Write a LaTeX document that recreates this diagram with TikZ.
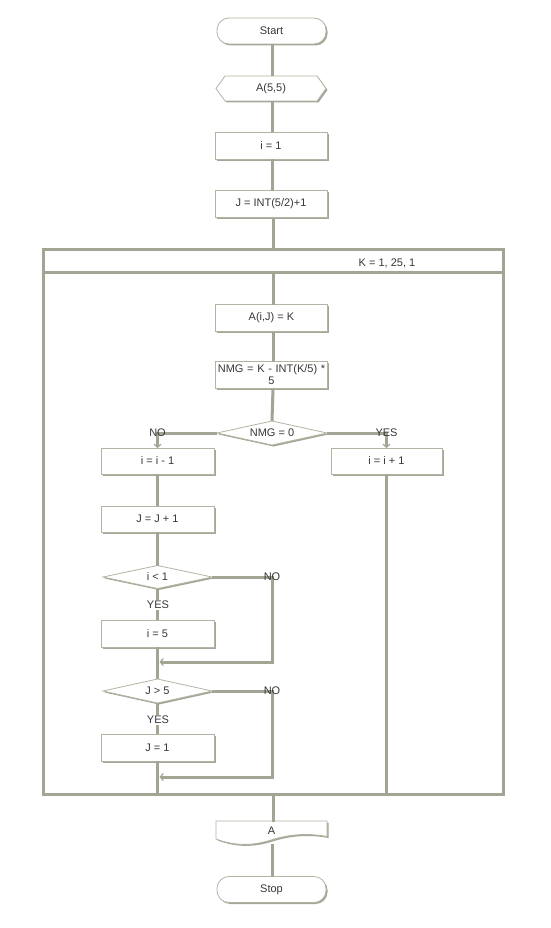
\documentclass[tikz,border=0pt]{standalone}
\usepackage{fontspec}
\setmainfont{Liberation Sans}
\usetikzlibrary{shapes.geometric,shadows,arrows.meta,calc}
\definecolor{linec}{RGB}{163,164,148}
\definecolor{boxc}{RGB}{180,180,165}
\definecolor{shc}{RGB}{150,150,135}
\definecolor{txtc}{RGB}{55,55,55}
\begin{document}
\begin{tikzpicture}[x=1pt,y=-1pt,
  every node/.style={font=\fontsize{11}{12}\selectfont, text=txtc, outer sep=0pt},
  shad/.style={drop shadow={shadow xshift=1.5pt,shadow yshift=-1.5pt,fill=shc,opacity=0.85}},
  boxst/.style={draw=boxc, line width=0.8pt, fill=white, shad},
  procbox/.style={boxst, rectangle, minimum width=112pt, minimum height=27pt, inner sep=0pt},
  term/.style={boxst, rectangle, rounded corners=12pt, minimum width=109pt, minimum height=26pt, inner sep=0pt},
  decide/.style={boxst, diamond, aspect=4.5, minimum width=110pt, minimum height=24pt, inner sep=0pt},
  conn/.style={draw=linec, line width=3pt},
  arr/.style={-{Straight Barb[length=3pt,width=7pt,line width=1.2pt]}},
  lbl/.style={inner sep=0pt}
]
\useasboundingbox[fill=white] (0,0) rectangle (550,928);

% loop frame
\node[draw=linec, line width=3pt, rectangle, minimum width=460pt, minimum height=545pt, inner sep=0pt] (loop) at (273,521.5) {};
\coordinate (hdr) at (273,272);
\draw[conn] (loop.north west |- hdr) -- (loop.north east |- hdr);
\node[lbl] (klbl) at (387,263) {K = 1, 25, 1};

% top chain
\node[term] (start) at (271.5,31) {Start};
\coordinate (hc) at (271,88.5);
\filldraw[boxst] ($(hc)+(-55,0)$) -- ($(hc)+(-46,-12.5)$) -- ($(hc)+(46,-12.5)$) -- ($(hc)+(55,0)$) -- ($(hc)+(46,12.5)$) -- ($(hc)+(-46,12.5)$) -- cycle;
\node[minimum width=110pt, minimum height=25pt, inner sep=0pt] (a55) at (hc) {A(5,5)};
\node[procbox] (i1) at (271,146) {i = 1};
\node[procbox] (jint) at (271,204) {J = INT(5/2)+1};

\draw[conn] (start.south -| 272,0) -- (a55.north -| 272,0);
\draw[conn] (a55.south -| 272,0) -- (i1.north -| 272,0);
\draw[conn] (i1.south -| 272,0) -- (jint.north -| 272,0);
\draw[conn] (jint.south -| 273,0) -- (loop.north);

% loop body
\node[procbox] (aij) at (271.5,318) {A(i,J) = K};
\node[procbox, text width=112pt, align=center] (nmg) at (271.5,375) {NMG = K - INT(K/5) *\\5};
\node[decide] (dn) at (272,433) {NMG = 0};
\draw[conn] (hdr) -- (aij.north -| hdr);
\draw[conn] (aij.south -| hdr) -- (nmg.north -| hdr);
\draw[conn] (nmg.south -| hdr) -- (dn.north);

\node[procbox, minimum width=113pt, minimum height=26pt] (im) at (157.5,461) {i = i - 1};
\node[procbox, minimum width=111pt, minimum height=26pt] (ip) at (386.5,461) {i = i + 1};
\draw[conn,arr] (dn.west) -- (im.north |- dn.west) -- (im.north);
\draw[conn,arr] (dn.east) -- (ip.north |- dn.east) -- (ip.north);
\node[lbl] (no0) at (im.north |- dn.west) {NO};
\node[lbl] (yes0) at (ip.north |- dn.east) {YES};

\node[procbox, minimum width=113pt, minimum height=26pt] (jj) at (157.5,519) {J = J + 1};
\draw[conn] (im.south) -- (jj.north);

\node[decide, minimum width=109pt, minimum height=23pt] (d1) at (157.5,577) {i < 1};
\draw[conn] (jj.south) -- (d1.north);
\node[procbox, minimum width=113pt, minimum height=27pt] (i5) at (157.5,633.5) {i = 5};
\draw[conn] (d1.south) -- (i5.north);
\node[lbl, fill=white, inner sep=1pt] (yes1) at (158,605) {YES};
\coordinate (r1) at (272,662);
\draw[conn,arr] (d1.east) -- (d1.east -| r1) -- (r1) -- ($(r1 -| i5.south)+(2,0)$);
\node[lbl] (no1) at (d1.east -| r1) {NO};

\node[decide, minimum width=109pt, minimum height=24pt] (d2) at (157.5,691) {J > 5};
\draw[conn] (i5.south) -- (d2.north);
\node[procbox, minimum width=113pt, minimum height=27pt] (j1) at (157.5,747.5) {J = 1};
\draw[conn] (d2.south) -- (j1.north);
\node[lbl, fill=white, inner sep=1pt] (yes2) at (158,720) {YES};
\coordinate (r2) at (272,777);
\draw[conn,arr] (d2.east) -- (d2.east -| r2) -- (r2) -- ($(r2 -| j1.south)+(2,0)$);
\node[lbl] (no2) at (d2.east -| r2) {NO};

\draw[conn] (j1.south) -- (j1.south |- loop.south);
\draw[conn] (ip.south) -- (ip.south |- loop.south);

% after loop
\filldraw[boxst] (216,821) -- (327,821) -- (327,836.5) .. controls (308,833) and (290,834) .. (271,840) .. controls (252,846) and (235,846) .. (216,839) -- cycle;
\node[minimum width=111pt, minimum height=19pt, inner sep=0pt] (outa) at (271.5,831) {A};
\node[term] (stop) at (271.5,889.5) {Stop};
\draw[conn] (loop.south) -- (outa.north -| loop.south);
\draw[conn] ($(outa.south -| 272,0)+(0,3)$) -- (stop.north -| 272,0);
\end{tikzpicture}
\end{document}
